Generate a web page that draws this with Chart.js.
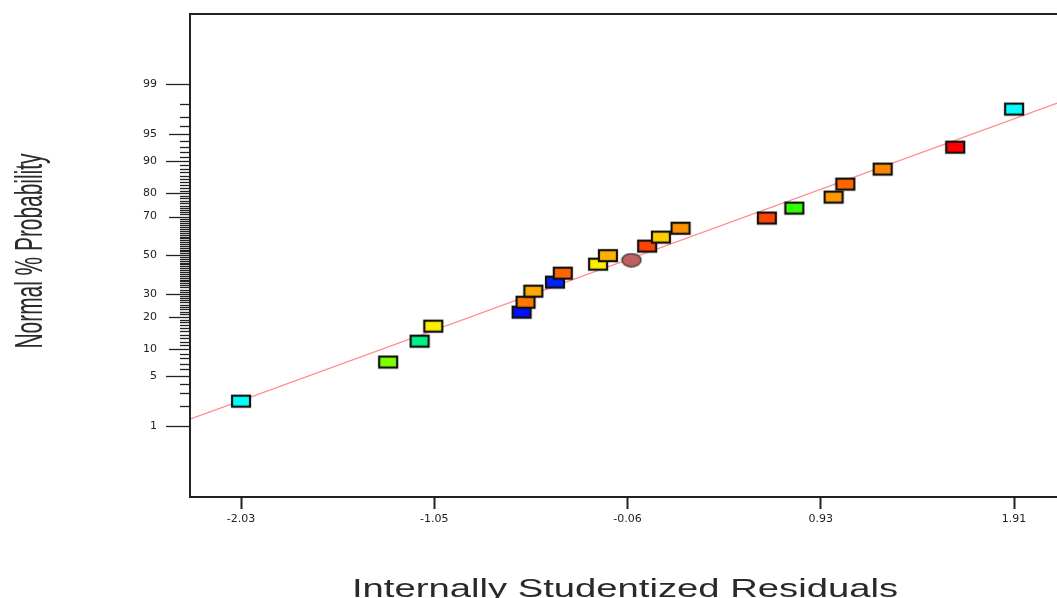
<!DOCTYPE html>
<html>
<head>
<meta charset="utf-8">
<script src="https://cdn.jsdelivr.net/npm/chart.js@4/dist/chart.umd.min.js"></script>
<style>
  html, body { margin: 0; padding: 0; background: #fff; overflow: hidden; }
  #wrap { width: 1080px; height: 598px; }
</style>
</head>
<body>
<div id="wrap"><canvas id="chart" width="1080" height="598"></canvas></div>
<script>
// residuals (x) and normal % probability (y), sorted by residual
let residuals = [-2.03, -1.28, -1.12, -1.05, -0.60, -0.58, -0.54, -0.43, -0.39, -0.21, -0.16, -0.04,
                 0.04, 0.11, 0.21, 0.65, 0.79, 0.99, 1.05, 1.24, 1.61, 1.91];
let probabilities = [2.35, 7.3, 12.1, 16.7, 21.9, 26.1, 31.2, 35.7, 40.3, 45.1, 49.7, 47.3,
                     54.9, 59.7, 64.3, 69.3, 73.9, 78.5, 83.3, 87.9, 92.9, 97.65];
let pointColors = ["#00ffff", "#80ff00", "#00f088", "#ffee00", "#0010ff", "#ff7700", "#ffaa00", "#0022ff",
                   "#ff6600", "#ffee00", "#ffb300", "#c06060", "#ff4400", "#ffcc00", "#ff9000", "#ff4400",
                   "#33ff00", "#ff9900", "#ff6600", "#ff8800", "#ff0000", "#00ffff"];
let pointShapes = ["rect", "rect", "rect", "rect", "rect", "rect", "rect", "rect", "rect", "rect", "rect", "circle",
                   "rect", "rect", "rect", "rect", "rect", "rect", "rect", "rect", "rect", "rect"];

// reference line end points
let lineResiduals = [-2.29, 2.2];
let lineProbabilities = [1.28, 98.37];

// axis ticks
let xTickValues = [-2.03, -1.045, -0.06, 0.925, 1.91];
let xTickLabels = ["-2.03", "-1.05", "-0.06", "0.93", "1.91"];
let yTickPct = [1, 5, 10, 20, 30, 50, 70, 80, 90, 95, 99];
let longTicks = [1, 5, 30, 50, 80, 90, 99];
let midTicks = [10, 20, 70, 95];

// inverse normal cdf (Acklam)
function probit(p) {
    const a = [-39.6968302866538, 220.946098424521, -275.928510446969, 138.357751867269, -30.6647980661472, 2.50662827745924];
    const b = [-54.4760987982241, 161.585836858041, -155.698979859887, 66.8013118877197, -13.2806815528857];
    const c = [-0.00778489400243029, -0.322396458041136, -2.40075827716184, -2.54973253934373, 4.37466414146497, 2.93816398269878];
    const d = [0.00778469570904146, 0.32246712907004, 2.445134137143, 3.75440866190742];
    const pl = 0.02425;
    if (p < pl) {
        const q = Math.sqrt(-2 * Math.log(p));
        return (((((c[0]*q+c[1])*q+c[2])*q+c[3])*q+c[4])*q+c[5]) / ((((d[0]*q+d[1])*q+d[2])*q+d[3])*q+1);
    }
    if (p > 1 - pl) {
        const q = Math.sqrt(-2 * Math.log(1 - p));
        return -(((((c[0]*q+c[1])*q+c[2])*q+c[3])*q+c[4])*q+c[5]) / ((((d[0]*q+d[1])*q+d[2])*q+d[3])*q+1);
    }
    const q = p - 0.5, r = q * q;
    return (((((a[0]*r+a[1])*r+a[2])*r+a[3])*r+a[4])*r+a[5])*q / (((((b[0]*r+b[1])*r+b[2])*r+b[3])*r+b[4])*r+1);
}

function makeMarker(color, shape) {
    let c = document.createElement("canvas");
    c.width = 22; c.height = 15;
    let g = c.getContext("2d");
    g.fillStyle = color;
    g.strokeStyle = "#111";
    g.lineWidth = 2.2;
    if (shape == "circle") {
        g.beginPath();
        g.ellipse(11, 7.5, 9.5, 6.5, 0, 0, Math.PI * 2);
        g.fill();
        g.strokeStyle = "#444";
        g.lineWidth = 1.5;
        g.stroke();
    } else {
        g.fillRect(2, 2, 18, 11);
        g.strokeRect(2, 2, 18, 11);
    }
    return c;
}

let markers = pointColors.map((col, i) => makeMarker(col, pointShapes[i]));
let points = residuals.map((r, i) => ({ x: r, y: probit(probabilities[i] / 100) }));
let refLine = lineResiduals.map((r, i) => ({ x: r, y: probit(lineProbabilities[i] / 100) }));

function stretchedText(ctx, text, x, y, width, angle) {
    ctx.save();
    ctx.translate(x, y);
    ctx.rotate(angle);
    let w = ctx.measureText(text).width;
    ctx.scale(width / w, 1);
    ctx.textAlign = "center";
    ctx.fillText(text, 0, 0);
    ctx.restore();
}

const framePlugin = {
    id: "frame",
    afterDraw(chart) {
        let ctx = chart.ctx;
        let a = chart.chartArea;
        let y = chart.scales.y;
        ctx.save();
        ctx.strokeStyle = "#222";
        ctx.lineWidth = 1.3;
        // y tick marks at every percent
        for (let p = 1; p <= 99; p++) {
            let yy = Math.round(y.getPixelForValue(probit(p / 100))) + 0.5;
            let len = 10;
            if (longTicks.includes(p)) len = 24;
            else if (midTicks.includes(p)) len = 21;
            ctx.beginPath();
            ctx.moveTo(a.left - len, yy);
            ctx.lineTo(a.left, yy);
            ctx.stroke();
        }
        // plot box
        ctx.lineWidth = 2;
        ctx.strokeRect(a.left, a.top, a.right - a.left, a.bottom - a.top);

        // axis titles
        ctx.fillStyle = "#2a2a2a";
        ctx.textBaseline = "alphabetic";
        ctx.font = "25px 'Liberation Sans', Arial, sans-serif";
        stretchedText(ctx, "Internally Studentized Residuals", 625, 597, 546, 0);
        ctx.font = "38px 'Liberation Sans', Arial, sans-serif";
        stretchedText(ctx, "Normal % Probability", 42, 251, 195, -Math.PI / 2);
        ctx.restore();
    }
};

new Chart(document.getElementById("chart"), {
    type: "scatter",
    data: {
        datasets: [{
            data: points,
            pointStyle: markers,
            pointRadius: 8,
            pointHoverRadius: 8
        }, {
            data: refLine,
            showLine: true,
            borderColor: "#ff8a8a",
            borderWidth: 1.2,
            pointRadius: 0
        }]
    },
    options: {
        responsive: false,
        animation: false,
        layout: { padding: { top: 14, right: 4, left: 0, bottom: 0 } },
        plugins: { legend: { display: false }, tooltip: { enabled: false } },
        scales: {
            x: {
                type: "linear",
                min: -2.29,
                max: 2.2,
                afterBuildTicks: (s) => { s.ticks = xTickValues.map(v => ({ value: v })); },
                afterFit: (s) => { s.height = 101; s.paddingLeft = 0; s.paddingRight = 0; },
                grid: { drawOnChartArea: false, tickLength: 12, tickColor: "#222", tickWidth: 2 },
                border: { display: false },
                ticks: {
                    autoSkip: false,
                    maxRotation: 0,
                    padding: 4,
                    color: "#222",
                    font: { family: "'DejaVu Sans', sans-serif", size: 11 },
                    callback: (v, i) => xTickLabels[i]
                }
            },
            y: {
                type: "linear",
                min: -3.29,
                max: 3.28,
                afterBuildTicks: (s) => { s.ticks = yTickPct.map(p => ({ value: probit(p / 100) })); },
                afterFit: (s) => { s.width = 190; s.paddingTop = 0; s.paddingBottom = 0; },
                grid: { drawOnChartArea: false, drawTicks: false },
                border: { display: false },
                ticks: {
                    autoSkip: false,
                    padding: 33,
                    color: "#222",
                    font: { family: "'DejaVu Sans', sans-serif", size: 11 },
                    callback: (v, i) => yTickPct[i]
                }
            }
        }
    },
    plugins: [framePlugin]
});
</script>
</body>
</html>
